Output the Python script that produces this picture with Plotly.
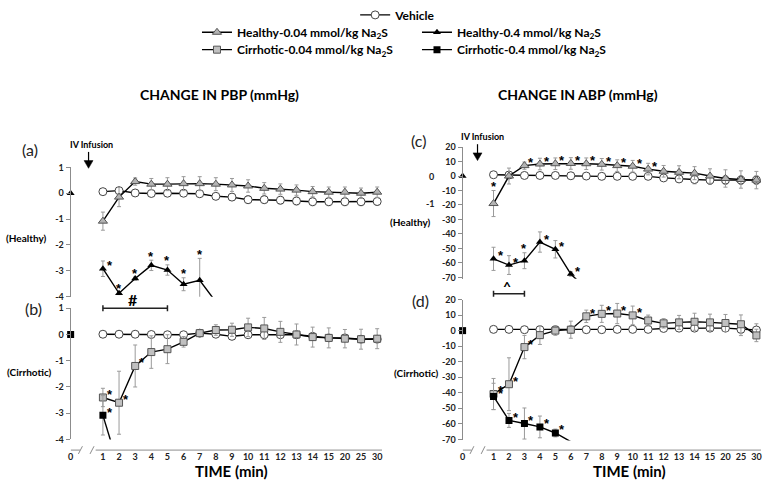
import plotly.graph_objects as go

W, H = 768, 485
FONT = "Lato"

# ---------------- data ----------------
time_labels = ["1", "2", "3", "4", "5", "6", "7", "8", "9", "10", "11", "12",
               "13", "14", "15", "20", "25", "30"]
baseline_label = "0"

# (a) PBP, healthy
pbp_h_vehicle = [0.06, 0.10, 0.01, -0.01, 0.0, 0.0, -0.02, -0.12, -0.15, -0.25, -0.25, -0.27,
                 -0.30, -0.33, -0.33, -0.33, -0.33, -0.32]
pbp_h_vehicle_err = [0.05, 0.08, 0.06, 0.06, 0.06, 0.06, 0.08, 0.10, 0.12, 0.15, 0.15, 0.15,
                     0.15, 0.15, 0.15, 0.15, 0.15, 0.15]
pbp_h_004 = [-1.08, -0.15, 0.45, 0.35, 0.35, 0.37, 0.37, 0.35, 0.32, 0.28, 0.19, 0.16,
             0.12, 0.06, 0.04, 0.04, 0.0, 0.04]
pbp_h_004_err = [0.35, 0.37, 0.14, 0.22, 0.25, 0.27, 0.27, 0.25, 0.25, 0.24, 0.22, 0.20,
                 0.20, 0.20, 0.20, 0.20, 0.20, 0.20]
pbp_h_04 = [-2.92, -3.87, -3.30, -2.79, -2.97, -3.52, -3.37, -4.2]
pbp_h_04_err = [0.30, 0.05, 0.06, 0.20, 0.20, 0.25, 0.85, 0.0]

# (b) PBP, cirrhotic
pbp_c_vehicle = [0.01, 0.01, 0.01, 0.0, -0.01, -0.01, 0.05, 0.01, -0.07, -0.01, -0.01, -0.01,
                 -0.01, -0.07, -0.13, -0.13, -0.18, -0.18]
pbp_c_vehicle_err = [0.04, 0.04, 0.04, 0.04, 0.05, 0.05, 0.08, 0.08, 0.08, 0.1, 0.1, 0.1,
                     0.1, 0.1, 0.1, 0.1, 0.1, 0.1]
pbp_c_004 = [-2.40, -2.60, -1.20, -0.67, -0.56, -0.28, 0.05, 0.17, 0.18, 0.27, 0.23, 0.10,
             0.0, -0.10, -0.13, -0.16, -0.18, -0.16]
pbp_c_004_err = [0.35, 1.20, 0.80, 0.62, 0.55, 0.20, 0.08, 0.20, 0.25, 0.35, 0.42, 0.40,
                 0.40, 0.38, 0.38, 0.35, 0.38, 0.38]
pbp_c_04 = [-3.08, -5.1]
pbp_c_04_err = [0.75, 0.0]

# (c) ABP, healthy
abp_h_vehicle = [0.9, 0.7, 0.4, 0.4, 0.4, 0.2, 0.0, -0.2, -0.2, -0.2, -0.2, -1.3,
                 -2.0, -2.4, -2.8, -2.8, -2.8, -2.8]
abp_h_vehicle_err = [1, 1, 1, 1, 1, 1, 1, 1, 1, 1, 1.5, 2, 2.5, 3, 3, 3, 3, 3]
abp_h_004 = [-19.0, 0.0, 7.2, 8.3, 8.5, 8.7, 8.5, 8.1, 7.2, 6.8, 4.8, 3.3,
             2.6, 2.0, 0.0, -1.7, -2.4, -2.8]
abp_h_004_err = [9, 5.5, 2.5, 4, 4, 4, 4, 4, 4, 4, 4, 4, 4.5, 4.5, 5, 6, 6, 6]
abp_h_04 = [-57.2, -61.5, -58.5, -45.6, -50.6, -67.7, -78.0]
abp_h_04_err = [8, 6.5, 5.5, 7, 6, 1.5, 0]

# (d) ABP, cirrhotic
abp_c_vehicle = [0.8, 0.8, 0.6, 0.6, 0.6, 0.6, 0.6, 0.6, 0.8, 0.8, 0.8, 1.4,
                 1.6, 1.6, 1.6, 1.6, 0.8, 0.4]
abp_c_vehicle_err = [1, 1, 1, 1, 1, 1, 1, 1, 1, 1, 1, 2, 2, 2, 2, 2, 4, 4]
abp_c_004 = [-40.8, -34.5, -10.6, -2.9, 0.0, 0.6, 9.2, 10.8, 11.0, 9.8, 6.5, 4.7,
             5.3, 5.7, 5.3, 4.9, 4.1, -3.1]
abp_c_004_err = [10, 17, 7.5, 6, 3, 5.5, 4, 5.5, 6.5, 6, 3.5, 3, 4.5, 5.5, 5.3, 5.5, 6, 4]
abp_c_04 = [-42.4, -57.8, -59.8, -62.0, -65.9, -71.5]
abp_c_04_err = [8.5, 4.5, 10, 7, 2.5, 0]

# significance asterisks: (time label, placement) r = right of point, a = above error bar
sig_pbp_h_04 = [("1", "r"), ("2", "a"), ("3", "a"), ("4", "a"), ("5", "a"), ("6", "a"), ("7", "a")]
sig_pbp_c_004 = [("1", "r"), ("2", "r"), ("3", "r")]
sig_pbp_c_04 = [("1", "r")]
sig_abp_h_004 = [("1", "a"), ("3", "r"), ("4", "r"), ("5", "r"), ("6", "r"), ("7", "r"),
                 ("8", "r"), ("9", "r"), ("10", "r"), ("11", "r")]
sig_abp_h_04 = [("1", "r"), ("2", "r"), ("3", "a"), ("4", "r"), ("5", "r"), ("6", "r")]
sig_abp_c_004 = [("1", "r"), ("2", "r"), ("3", "r"), ("7", "r"), ("8", "r"), ("9", "r"), ("10", "r")]
sig_abp_c_04 = [("1", "r"), ("2", "r"), ("3", "r"), ("4", "r"), ("5", "r")]

pbp_ticks = [1, 0, -1, -2, -3, -4]
abp_ticks = [20, 10, 0, -10, -20, -30, -40, -50, -60, -70]

series_names = {
    "veh": "Vehicle",
    "h004": "Healthy-0.04 mmol/kg Na<sub>2</sub>S",
    "h04": "Healthy-0.4 mmol/kg Na<sub>2</sub>S",
    "c004": "Cirrhotic-0.04 mmol/kg Na<sub>2</sub>S",
    "c04": "Cirrhotic-0.4 mmol/kg Na<sub>2</sub>S",
}

# ---------------- helpers / styles ----------------
X0 = -2.0          # position of the "0" (baseline) category
XR = [-2.0, 17.3]


def px_x(p):
    return p / W


def px_y(p):
    return 1 - p / H


def pos(labels):
    return [time_labels.index(l) for l in labels]


marker_styles = {
    "veh": dict(symbol="circle", size=8, color="white", line=dict(color="#444", width=1)),
    "h004": dict(symbol="triangle-up", size=8, color="#b3b3b3", line=dict(color="#555", width=1)),
    "h04": dict(symbol="triangle-up", size=7, color="black", line=dict(color="black", width=0)),
    "c004": dict(symbol="square", size=7, color="#c0c0c0", line=dict(color="#555", width=1)),
    "c04": dict(symbol="square", size=7, color="black", line=dict(color="black", width=0)),
}
legend_of = {"veh": "legend", "h004": "legend2", "h04": "legend2", "c004": "legend3", "c04": "legend3"}

fig = go.Figure()
annotations = []
STAR_FONT = dict(family="Liberation Sans", size=13, color="black", weight="bold")


def add_series(key, values, errs, xa, ya, show):
    xs = pos(time_labels[:len(values)])
    fig.add_trace(go.Scatter(
        x=xs, y=values, mode="lines+markers", name=series_names[key],
        xaxis=xa, yaxis=ya, showlegend=show, legend=legend_of[key],
        line=dict(color="black", width=1.4),
        marker=marker_styles[key],
        error_y=dict(type="data", array=errs, visible=True, color="#9a9a9a", thickness=1, width=2),
    ))


def add_stars(sig, values, errs, xa, ya):
    for lab, kind in sig:
        i = time_labels.index(lab)
        if kind == "r":
            annotations.append(dict(x=i, y=values[i], xref=xa, yref=ya, text="*", showarrow=False,
                                    xshift=7, yshift=3, font=STAR_FONT))
        else:
            annotations.append(dict(x=i, y=values[i] + errs[i], xref=xa, yref=ya, text="*", showarrow=False,
                                    xshift=0, yshift=4, font=STAR_FONT))


def add_baseline(symbol, xa, ya):
    fig.add_trace(go.Scatter(x=[X0], y=[0], mode="markers", xaxis=xa, yaxis=ya, showlegend=False,
                             cliponaxis=False, marker=dict(symbol=symbol, size=7, color="black")))


# panel (a)
add_series("veh", pbp_h_vehicle, pbp_h_vehicle_err, "x", "y", True)
add_series("h004", pbp_h_004, pbp_h_004_err, "x", "y", True)
add_series("h04", pbp_h_04, pbp_h_04_err, "x", "y", True)
add_baseline("triangle-up", "x", "y")
add_stars(sig_pbp_h_04, pbp_h_04, pbp_h_04_err, "x", "y")
# panel (b)
add_series("veh", pbp_c_vehicle, pbp_c_vehicle_err, "x2", "y2", False)
add_series("c004", pbp_c_004, pbp_c_004_err, "x2", "y2", True)
add_series("c04", pbp_c_04, pbp_c_04_err, "x2", "y2", True)
add_baseline("square", "x2", "y2")
add_stars(sig_pbp_c_004, pbp_c_004, pbp_c_004_err, "x2", "y2")
add_stars(sig_pbp_c_04, pbp_c_04, pbp_c_04_err, "x2", "y2")
# panel (c)
add_series("veh", abp_h_vehicle, abp_h_vehicle_err, "x3", "y3", False)
add_series("h004", abp_h_004, abp_h_004_err, "x3", "y3", False)
add_series("h04", abp_h_04, abp_h_04_err, "x3", "y3", False)
add_baseline("triangle-up", "x3", "y3")
add_stars(sig_abp_h_004, abp_h_004, abp_h_004_err, "x3", "y3")
add_stars(sig_abp_h_04, abp_h_04, abp_h_04_err, "x3", "y3")
# panel (d)
add_series("veh", abp_c_vehicle, abp_c_vehicle_err, "x4", "y4", False)
add_series("c004", abp_c_004, abp_c_004_err, "x4", "y4", False)
add_series("c04", abp_c_04, abp_c_04_err, "x4", "y4", False)
add_baseline("square", "x4", "y4")
add_stars(sig_abp_c_004, abp_c_004, abp_c_004_err, "x4", "y4")
add_stars(sig_abp_c_04, abp_c_04, abp_c_04_err, "x4", "y4")

# ---------------- axes ----------------
AX_COL = "#8c8c8c"
tickfont = dict(family=FONT, size=9, color="#222", weight="bold")
LEFT_X = [px_x(68), px_x(381)]
RIGHT_X = [px_x(462), px_x(762)]
AXIS_Y = px_y(454)


def yaxis(domain, rng, ticks, anchor):
    return dict(domain=domain, range=rng, anchor=anchor, showline=True, linecolor=AX_COL, linewidth=1,
                ticks="outside", ticklen=4, tickcolor=AX_COL, tickvals=ticks,
                ticktext=[str(t) for t in ticks], tickfont=tickfont, showgrid=False, zeroline=False)


xticks_vals = [X0] + list(range(len(time_labels)))
xticks_text = [baseline_label] + time_labels


def xaxis_bottom(domain):
    return dict(domain=domain, range=XR, anchor="free", position=AXIS_Y, showline=False, ticks="",
                tickvals=xticks_vals, ticktext=xticks_text, tickfont=tickfont, showgrid=False,
                zeroline=False)


def xaxis_hidden(domain):
    return dict(domain=domain, range=XR, visible=False, showgrid=False, zeroline=False)


fig.update_layout(
    xaxis=xaxis_hidden(LEFT_X),
    yaxis=yaxis([px_y(295), px_y(161)], [-4, 1], pbp_ticks, "x"),
    xaxis2=xaxis_bottom(LEFT_X),
    yaxis2=yaxis([px_y(443), px_y(307)], [-4, 1], pbp_ticks, "x2"),
    xaxis3=xaxis_hidden(RIGHT_X),
    yaxis3=yaxis([px_y(276.5), px_y(140)], [-71, 20], abp_ticks, "x3"),
    xaxis4=xaxis_bottom(RIGHT_X),
    yaxis4=yaxis([px_y(444), px_y(298)], [-70.7, 20], abp_ticks, "x4"),
)

# ---------------- shapes: broken x-axes, significance bars, infusion arrows ----------------
shapes = []
for xr in ("x2", "x4"):
    line = dict(color=AX_COL, width=1)
    shapes += [
        dict(type="line", xref=xr, yref="paper", x0=X0, x1=-1.42, y0=AXIS_Y, y1=AXIS_Y, line=line),
        dict(type="line", xref=xr, yref="paper", x0=-1.52, x1=-1.27, y0=px_y(458), y1=px_y(450), line=line),
        dict(type="line", xref=xr, yref="paper", x0=-0.8, x1=-0.55, y0=px_y(458), y1=px_y(450), line=line),
        dict(type="line", xref=xr, yref="paper", x0=-0.45, x1=XR[1], y0=AXIS_Y, y1=AXIS_Y, line=line),
    ]


def sig_bar(xr, a, b, ypx):
    ln = dict(color="#222", width=1.5)
    return [
        dict(type="line", xref=xr, yref="paper", x0=a, x1=b, y0=px_y(ypx), y1=px_y(ypx), line=ln),
        dict(type="line", xref=xr, yref="paper", x0=a, x1=a, y0=px_y(ypx - 3), y1=px_y(ypx + 3), line=ln),
        dict(type="line", xref=xr, yref="paper", x0=b, x1=b, y0=px_y(ypx - 3), y1=px_y(ypx + 3), line=ln),
    ]


shapes += sig_bar("x2", time_labels.index("1"), time_labels.index("5"), 307)
shapes += sig_bar("x4", time_labels.index("1"), time_labels.index("3"), 292)

for ax_x, top, bot in ((86, 145, 156), (477, 137, 148)):
    shapes.append(dict(type="line", xref="paper", yref="paper", x0=px_x(ax_x), x1=px_x(ax_x),
                       y0=px_y(top), y1=px_y(bot), line=dict(color="black", width=1.2)))
    shapes.append(dict(type="path", xref="paper", yref="paper",
                       path=f"M {px_x(ax_x - 4.5)},{px_y(bot - 2)} L {px_x(ax_x + 4.5)},{px_y(bot - 2)} "
                            f"L {px_x(ax_x)},{px_y(bot + 6)} Z",
                       fillcolor="black", line=dict(color="black", width=0.5)))
fig.update_layout(shapes=shapes)


# ---------------- text annotations ----------------
def txt(x, y, s, size, bold=True, color="black"):
    annotations.append(dict(x=px_x(x), y=px_y(y), xref="paper", yref="paper", text=s, showarrow=False,
                            xanchor="center", yanchor="middle",
                            font=dict(family=FONT, size=size, color=color,
                                      weight="bold" if bold else "normal")))


txt(218, 86, "CHANGE IN PBP (mmHg)", 14)
txt(578, 86, "CHANGE IN ABP (mmHg)", 14)
txt(27, 143, "(a)", 16, bold=False, color="#222")
txt(31, 307, "(b)", 16, bold=False, color="#222")
txt(418, 133, "(c)", 16, bold=False, color="#222")
txt(420, 299, "(d)", 16, bold=False, color="#222")
txt(23, 234, "(Healthy)", 10)
txt(27, 373, "(Cirrhotic)", 10)
txt(409, 218, "(Healthy)", 10)
txt(416, 374, "(Cirrhotic)", 10)
txt(89, 137, "IV Infusion", 9)
txt(482, 129, "IV Infusion", 9)
txt(431, 170, "0", 9, color="#222")
txt(430, 198, "-1", 9, color="#222")
txt(131, 298, "#", 16)
txt(507, 284, "^", 14)
txt(230, 476, "TIME (min)", 15)
txt(630, 476, "TIME (min)", 15)

fig.update_layout(annotations=annotations)

# ---------------- legends ----------------
legfont = dict(family=FONT, size=12, color="black", weight="bold")
common = dict(orientation="h", xanchor="left", yanchor="top", font=legfont, bgcolor="rgba(0,0,0,0)",
              itemwidth=30, tracegroupgap=0)
fig.update_layout(
    legend=dict(x=px_x(354), y=px_y(-12), **common),
    legend2=dict(x=px_x(195), y=px_y(6), entrywidth=175, entrywidthmode="pixels", **common),
    legend3=dict(x=px_x(195), y=px_y(24), entrywidth=175, entrywidthmode="pixels", **common),
)

fig.update_layout(
    width=W, height=H, margin=dict(l=0, r=0, t=0, b=0),
    paper_bgcolor="white", plot_bgcolor="white",
    font=dict(family=FONT, color="black"),
)

fig.write_html("out.html", config={"displayModeBar": False},
               post_script="document.body.style.margin='0px';")
